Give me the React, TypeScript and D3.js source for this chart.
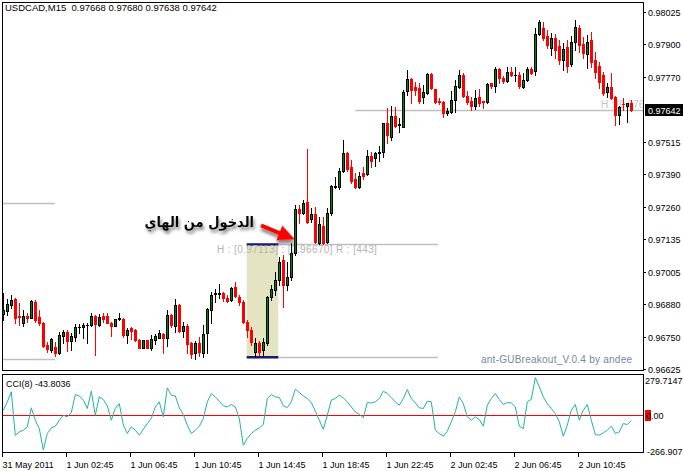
import { useEffect, useRef } from 'react';
import * as d3 from 'd3';

const symbol = 'USDCAD,M15';

// M15 bars, oldest first
const opens = [
  0.9684, 0.96852, 0.96875, 0.96899, 0.96833, 0.96805, 0.96833, 0.96825, 0.96888, 0.96829,
  0.96806, 0.96718, 0.96698, 0.96711, 0.96685, 0.96755, 0.9677, 0.96735, 0.96751, 0.96788,
  0.9679, 0.96797, 0.96796, 0.96833, 0.96797, 0.96832, 0.96832, 0.96806, 0.96794, 0.9682,
  0.9682, 0.96757, 0.96784, 0.96777, 0.96738, 0.96708, 0.96738, 0.96708, 0.96738, 0.96747,
  0.96761, 0.96747, 0.96836, 0.96793, 0.96875, 0.96773, 0.96793, 0.96725, 0.96685, 0.96725,
  0.96688, 0.96767, 0.96856, 0.96919, 0.96919, 0.96924, 0.96902, 0.96895, 0.96946, 0.96908,
  0.96888, 0.9681, 0.96777, 0.96692, 0.96727, 0.96698, 0.96727, 0.96908, 0.96934, 0.96974,
  0.97052, 0.96954, 0.96987, 0.97079, 0.97251, 0.97238, 0.97281, 0.97212, 0.97233, 0.9712,
  0.97186, 0.97124, 0.97236, 0.9734, 0.9734, 0.97402, 0.97472, 0.97419, 0.97369, 0.97338,
  0.97393, 0.9739, 0.97461, 0.97452, 0.97474, 0.97478, 0.97592, 0.97534, 0.97618, 0.97582,
  0.97576, 0.97714, 0.97762, 0.97733, 0.97727, 0.97694, 0.97707, 0.97783, 0.97723, 0.97677,
  0.97674, 0.97629, 0.97635, 0.97681, 0.97733, 0.97779, 0.97697, 0.97678, 0.97655, 0.97692,
  0.97677, 0.97674, 0.97747, 0.97736, 0.97802, 0.97766, 0.97757, 0.97792, 0.97779, 0.97779,
  0.97731, 0.9776, 0.97802, 0.97796, 0.9794, 0.97964, 0.97933, 0.97885, 0.97925, 0.97893,
  0.97838, 0.97889, 0.97823, 0.97909, 0.97964, 0.97901, 0.97862, 0.97917, 0.97838, 0.97815,
  0.97779, 0.9771, 0.97733, 0.97694, 0.97622, 0.97665, 0.97657, 0.97668,
];
const highs = [
  0.96923, 0.96899, 0.96915, 0.96903, 0.96883, 0.96856, 0.96845, 0.96895, 0.96895, 0.96856,
  0.9681, 0.96731, 0.96746, 0.96731, 0.9677, 0.96777, 0.96777, 0.96764, 0.96801, 0.96801,
  0.96803, 0.96803, 0.96845, 0.96836, 0.96839, 0.96845, 0.96843, 0.9681, 0.9682, 0.96845,
  0.96825, 0.96784, 0.96788, 0.9678, 0.96742, 0.96738, 0.96738, 0.96757, 0.9676, 0.96777,
  0.96764, 0.96856, 0.9684, 0.96898, 0.96878, 0.9681, 0.96799, 0.96731, 0.96735, 0.96751,
  0.96797, 0.96864, 0.96928, 0.96937, 0.96958, 0.96928, 0.96915, 0.96945, 0.96966, 0.96915,
  0.96895, 0.96816, 0.9679, 0.96746, 0.96734, 0.96746, 0.96911, 0.96954, 0.97005, 0.97064,
  0.97072, 0.97044, 0.97119, 0.97268, 0.97268, 0.97288, 0.97487, 0.97255, 0.97262, 0.9722,
  0.9722, 0.97255, 0.97347, 0.97377, 0.97413, 0.97524, 0.97478, 0.97445, 0.97393, 0.97399,
  0.97416, 0.97484, 0.97478, 0.97478, 0.975, 0.97592, 0.97648, 0.97655, 0.97652, 0.97609,
  0.9772, 0.97799, 0.97766, 0.97753, 0.97749, 0.9774, 0.97786, 0.97786, 0.97725, 0.9769,
  0.97678, 0.97648, 0.97714, 0.9776, 0.97799, 0.97786, 0.97714, 0.97692, 0.9772, 0.97723,
  0.97677, 0.97747, 0.97749, 0.97812, 0.97806, 0.97775, 0.9781, 0.9781, 0.9781, 0.97792,
  0.97788, 0.97812, 0.97812, 0.97963, 0.97995, 0.97988, 0.97956, 0.97944, 0.9794, 0.97917,
  0.97905, 0.97917, 0.97933, 0.97995, 0.97976, 0.97929, 0.97936, 0.97948, 0.9787, 0.9783,
  0.97791, 0.97748, 0.97787, 0.97697, 0.97655, 0.97689, 0.97669, 0.9768,
];
const lows = [
  0.96816, 0.96836, 0.96864, 0.96805, 0.96797, 0.96793, 0.9681, 0.96824, 0.9681, 0.96797,
  0.96711, 0.96692, 0.96692, 0.96676, 0.96683, 0.96727, 0.96696, 0.96698, 0.96735, 0.96764,
  0.96744, 0.96727, 0.96793, 0.96679, 0.96793, 0.9681, 0.96803, 0.96755, 0.96794, 0.96816,
  0.96748, 0.96727, 0.96742, 0.96734, 0.96705, 0.96708, 0.96708, 0.96698, 0.96722, 0.96744,
  0.96685, 0.96714, 0.9679, 0.9677, 0.9677, 0.96751, 0.96685, 0.96666, 0.96662, 0.96675,
  0.9667, 0.96685, 0.96803, 0.96888, 0.96902, 0.96892, 0.96888, 0.96892, 0.96907, 0.96875,
  0.96806, 0.96751, 0.96718, 0.9667, 0.96679, 0.96679, 0.96718, 0.96895, 0.96915, 0.96954,
  0.96869, 0.96934, 0.96974, 0.97072, 0.97196, 0.97233, 0.97196, 0.97203, 0.97119, 0.97115,
  0.97115, 0.9712, 0.97229, 0.97334, 0.9733, 0.97399, 0.97402, 0.97356, 0.97334, 0.97334,
  0.97369, 0.97386, 0.97419, 0.97422, 0.97439, 0.97458, 0.97513, 0.97524, 0.97574, 0.97556,
  0.97574, 0.97701, 0.97668, 0.97701, 0.97668, 0.9767, 0.97705, 0.97723, 0.9767, 0.97665,
  0.97615, 0.97622, 0.97631, 0.97635, 0.97727, 0.97694, 0.97665, 0.97642, 0.97644, 0.97655,
  0.97648, 0.9767, 0.97727, 0.9771, 0.97747, 0.97747, 0.97753, 0.97775, 0.97757, 0.97727,
  0.97727, 0.97757, 0.97783, 0.97779, 0.97936, 0.97917, 0.97885, 0.97858, 0.97846, 0.97823,
  0.97799, 0.97791, 0.97815, 0.97878, 0.9787, 0.97846, 0.97807, 0.97811, 0.97767, 0.97728,
  0.97701, 0.97694, 0.97685, 0.97583, 0.97587, 0.97642, 0.97595, 0.97638,
];
const closes = [
  0.96856, 0.96879, 0.96895, 0.96824, 0.96829, 0.96832, 0.96825, 0.96891, 0.96816, 0.96803,
  0.96714, 0.96702, 0.96742, 0.96685, 0.96757, 0.9677, 0.96735, 0.96753, 0.96788, 0.9679,
  0.96797, 0.96797, 0.96833, 0.96799, 0.96829, 0.96819, 0.96806, 0.96794, 0.9682, 0.96823,
  0.96757, 0.96777, 0.96774, 0.96738, 0.96708, 0.96738, 0.96708, 0.96742, 0.96755, 0.96767,
  0.96747, 0.96836, 0.96797, 0.96875, 0.96774, 0.96793, 0.96722, 0.96682, 0.96725, 0.96692,
  0.9676, 0.96858, 0.96915, 0.96921, 0.96924, 0.96902, 0.96891, 0.96941, 0.96911, 0.96888,
  0.9681, 0.96777, 0.96731, 0.96727, 0.96692, 0.96731, 0.96908, 0.96937, 0.96974, 0.97046,
  0.96954, 0.96987, 0.97079, 0.97251, 0.97236, 0.97277, 0.97203, 0.97233, 0.97124, 0.97193,
  0.97118, 0.97236, 0.97343, 0.97343, 0.97402, 0.97472, 0.97409, 0.97364, 0.97338, 0.97382,
  0.9738, 0.97461, 0.97442, 0.97474, 0.97475, 0.97589, 0.97543, 0.97618, 0.97579, 0.97587,
  0.9771, 0.97762, 0.97718, 0.97718, 0.97678, 0.9771, 0.97783, 0.97727, 0.97674, 0.97674,
  0.97629, 0.97639, 0.97681, 0.97736, 0.97779, 0.97697, 0.97674, 0.97657, 0.97688, 0.97668,
  0.97673, 0.97744, 0.97736, 0.97802, 0.97766, 0.97757, 0.97792, 0.97779, 0.97779, 0.97736,
  0.9776, 0.97802, 0.97788, 0.9794, 0.97985, 0.97925, 0.97897, 0.97925, 0.97878, 0.97838,
  0.97881, 0.97815, 0.97909, 0.97968, 0.97897, 0.97866, 0.97909, 0.9783, 0.97791, 0.97752,
  0.97708, 0.97733, 0.97688, 0.97622, 0.97652, 0.97663, 0.97668, 0.97642,
];

// CCI(8) per bar
const cciPeriod = 8;
const cci = [
  34, 97, 173, -156, -130, -117, -92, 52, -42, -105,
  -266.907, -142, -100, -87, -42, -4, -16, 16, 152, 142,
  110, 47, 178, -4, 135, 115, 67, -42, 47, 84,
  -79, -142, -92, -117, -155, -110, -67, -29, 59, 97,
  -16, 203, 147, 142, 52, 1, -79, -142, -117, -87,
  -29, 97, 160, 135, 102, 67, 59, 77, 59, -29,
  -231, -180, -142, -117, -100, -74, 122, 152, 135, 130,
  67, 54, 97, 193, 168, 142, 122, 92, 26, -42,
  -110, -4, 110, 122, 147, 127, 97, 59, 21, 4,
  -24, 92, 89, 97, 122, 178, 160, 130, 97, 72,
  122, 190, 122, 89, 52, 47, 102, 97, -117, -142,
  -163, -125, -54, 21, 135, 84, -16, -42, -16, -37,
  -87, 72, 122, 160, 115, 77, 92, 89, 59, -87,
  -105, 97, 117, 279.7147, 210, 135, 84, 47, 9, -54,
  -163, -79, 34, 77, -42, 34, 77, -42, -150, -155,
  -137, -117, -87, -142, -130, -67, -74, -43.8036,
];

const priceTicks = [0.98025, 0.979, 0.9777, 0.97515, 0.9739, 0.9726, 0.97135, 0.97005, 0.9688, 0.9675, 0.96625];
const priceMin = 0.96625;
const priceMax = 0.98025;
const cciMax = 279.7147;
const cciMin = -266.907;
const timeLabels = [
  '31 May 2011', '1 Jun 02:45', '1 Jun 06:45', '1 Jun 10:45', '1 Jun 14:45',
  '1 Jun 18:45', '1 Jun 22:45', '2 Jun 02:45', '2 Jun 06:45', '2 Jun 10:45',
];
const barsPerLabel = 16;

// GUBreakout range box
const rangeHigh = 0.97113;
const rangeLow = 0.9667;
const rangeStartBar = 60.85;
const rangeEndBar = 68.75;
const rangeLineEndBar = 108.7;
const prevRangeHigh = 0.97276;
const prevRangeLow = 0.96664;
const prevRangeEndBar = 12.9;
const bidLineStartBar = 88;
const nextRangeLabel = 'H : [0.976';

const arabicNote = 'الدخول من الهاي';
const indicatorName = 'ant-GUBreakout_V.0.4 by andee';

const FONT = '"Liberation Sans", Arial, sans-serif';

export default function App() {
  const svgRef = useRef<SVGSVGElement>(null);

  useEffect(() => {
    if (!svgRef.current) return;
    const svg = d3.select(svgRef.current);
    svg.selectAll('*').remove();

    const left = 2, right = 643;
    const mainTop = 2, mainBottom = 370, cciTop = 374, cciBottom = 452;
    const n = opens.length;
    const last = n - 1;

    const x = d3.scaleLinear().domain([0, last]).range([3.3, 631.3]);
    const y = d3.scaleLinear().domain([priceMin, priceMax]).range([368.7, 12.3]);
    const yc = d3.scaleLinear().domain([cciMin, cciMax]).range([450, 377.7]);
    const px = (i: number) => Math.floor(x(i)) + 0.5;
    const py = (v: number) => Math.round(y(v)) + 0.5;

    svg.append('rect').attr('width', 683).attr('height', 471).attr('fill', '#fff');

    const defs = svg.append('defs');
    defs.append('clipPath').attr('id', 'mainClip')
      .append('rect').attr('x', left + 1).attr('y', mainTop + 1)
      .attr('width', right - left - 1).attr('height', mainBottom - mainTop - 1);
    defs.append('filter').attr('id', 'shadow').attr('x', '-20%').attr('y', '-30%')
      .attr('width', '140%').attr('height', '180%')
      .append('feDropShadow').attr('dx', 1.5).attr('dy', 3).attr('stdDeviation', 1.8)
      .attr('flood-color', '#666').attr('flood-opacity', 0.8);

    const main = svg.append('g').attr('clip-path', 'url(#mainClip)');

    const grayLine = (x1: number, x2: number, yy: number) =>
      main.append('line').attr('x1', x1).attr('x2', x2).attr('y1', yy).attr('y2', yy)
        .attr('stroke', '#c0c0c0').attr('stroke-width', 1.5);

    // previous day's range
    grayLine(left, x(prevRangeEndBar), py(prevRangeHigh));
    grayLine(left, x(prevRangeEndBar), py(prevRangeLow));

    // breakout range box
    const bx1 = x(rangeStartBar), bx2 = x(rangeEndBar);
    grayLine(bx1, x(rangeLineEndBar), py(rangeHigh));
    grayLine(bx1, x(rangeLineEndBar), py(rangeLow));
    main.append('rect').attr('x', bx1).attr('y', y(rangeHigh)).attr('width', bx2 - bx1)
      .attr('height', y(rangeLow) - y(rangeHigh)).attr('fill', '#e4e4c2');
    [rangeHigh, rangeLow].forEach(v => {
      main.append('line').attr('x1', bx1).attr('x2', bx2).attr('y1', y(v)).attr('y2', y(v))
        .attr('stroke', '#191970').attr('stroke-width', 2.5);
    });
    const rangePts = Math.round((rangeHigh - rangeLow) * 1e5);
    main.append('text').attr('x', x(53.4)).attr('y', y(rangeHigh) + 9)
      .attr('font-family', FONT).attr('font-size', 10).attr('fill', '#b4b4b4')
      .attr('textLength', 160).attr('lengthAdjust', 'spacing')
      .text(`H : [${rangeHigh.toFixed(5)}] : [${rangeLow.toFixed(5)}]   R : [${rangePts}]`);

    // bid line and the next range label
    const bid = closes[last];
    grayLine(x(bidLineStartBar), right, py(bid));
    main.append('text').attr('x', x(149.4)).attr('y', y(bid) - 2)
      .attr('font-family', FONT).attr('font-size', 10).attr('fill', '#c4c4c4')
      .text(nextRangeLabel);

    // candles
    const cg = main.append('g').attr('shape-rendering', 'crispEdges');
    for (let i = 0; i < n; i++) {
      const o = opens[i], c = closes[i];
      const cx = px(i);
      const bear = c < o;
      const top = Math.round(y(Math.max(o, c)));
      const bot = Math.round(y(Math.min(o, c)));
      const col = bear ? '#ff0000' : '#000';
      cg.append('line').attr('x1', cx).attr('x2', cx)
        .attr('y1', Math.round(y(highs[i]))).attr('y2', Math.round(y(lows[i])) + 1)
        .attr('stroke', col).attr('stroke-width', 1);
      if (bot - top < 1) {
        cg.append('rect').attr('x', cx - 1.5).attr('y', top).attr('width', 3).attr('height', 1).attr('fill', col);
      } else if (bear) {
        cg.append('rect').attr('x', cx - 1.5).attr('y', top).attr('width', 3).attr('height', bot - top + 1).attr('fill', '#ff0000');
      } else {
        cg.append('rect').attr('x', cx - 1.5).attr('y', top).attr('width', 3).attr('height', bot - top + 1).attr('fill', '#000');
        if (bot - top > 1) {
          cg.append('rect').attr('x', cx - 0.5).attr('y', top + 1).attr('width', 1).attr('height', bot - top - 1).attr('fill', '#008000');
        }
      }
    }

    main.append('text').attr('x', 481).attr('y', mainBottom - 7)
      .attr('font-family', FONT).attr('font-size', 10).attr('fill', '#778899')
      .attr('textLength', 151).attr('lengthAdjust', 'spacing').text(indicatorName);

    // arrow + note
    const tip: [number, number] = [x(73) - 0.3, y(rangeHigh) - 5];
    const ang = Math.atan2(14, 34);
    const len = Math.hypot(34, 14);
    const headLen = 17, headW = 8, shaftW = 1.9;
    const ag = main.append('g').attr('filter', 'url(#shadow)')
      .attr('transform', `translate(${tip[0]},${tip[1]}) rotate(${(ang * 180) / Math.PI})`);
    ag.append('path').attr('fill', '#ff0000').attr('d',
      `M0,0 L${-headLen},${-headW} L${-headLen},${-shaftW} L${-len},${-shaftW} L${-len},${shaftW} L${-headLen},${shaftW} L${-headLen},${headW} Z`);

    main.append('text').attr('x', tip[0] - 41).attr('y', tip[1] - 12.5)
      .attr('text-anchor', 'end').attr('font-family', '"DejaVu Sans Condensed", "DejaVu Sans", sans-serif')
      .attr('font-stretch', 'condensed')
      .attr('font-weight', 'bold').attr('font-size', 14.5).attr('fill', '#000')
      .attr('filter', 'url(#shadow)').text(arabicNote);

    // CCI panel
    const cg2 = svg.append('g');
    const zy = Math.round(yc(0)) + 0.5;
    cg2.append('line').attr('x1', left).attr('x2', right).attr('y1', zy).attr('y2', zy)
      .attr('stroke', '#ff0000').attr('stroke-width', 1);
    const cciLine = d3.line<number>().x((_d, i) => x(i)).y(d => yc(d));
    cg2.append('path').datum(cci).attr('fill', 'none').attr('stroke', '#20b2aa').attr('stroke-width', 1).attr('d', cciLine);
    cg2.append('text').attr('x', 6).attr('y', cciTop + 13).attr('font-family', FONT).attr('font-size', 9)
      .attr('fill', '#000').text(`CCI(${cciPeriod}) ${cci[last]}`);

    // frames
    const frame = svg.append('g').attr('fill', 'none').attr('stroke', '#000').attr('shape-rendering', 'crispEdges');
    frame.append('rect').attr('x', left + 0.5).attr('y', mainTop + 0.5).attr('width', right - left).attr('height', mainBottom - mainTop);
    frame.append('rect').attr('x', left + 0.5).attr('y', cciTop + 0.5).attr('width', right - left).attr('height', cciBottom - cciTop);

    // title
    svg.append('text').attr('x', 5).attr('y', 11).attr('font-family', FONT).attr('font-size', 9.5).attr('fill', '#000')
      .attr('xml:space', 'preserve')
      .text(`${symbol}  ${opens[last].toFixed(5)} ${highs[last].toFixed(5)} ${lows[last].toFixed(5)} ${closes[last].toFixed(5)}`);

    // price axis
    const ax = svg.append('g').attr('font-family', FONT).attr('font-size', 9).attr('fill', '#000');
    priceTicks.forEach(v => {
      const yy = Math.round(y(v)) + 0.5;
      ax.append('line').attr('x1', right).attr('x2', right + 3).attr('y1', yy).attr('y2', yy).attr('stroke', '#000');
      ax.append('text').attr('x', 648).attr('y', yy + 3.5).text(v.toFixed(5));
    });
    const by = Math.round(y(bid));
    ax.append('rect').attr('x', 645).attr('y', by - 6).attr('width', 38).attr('height', 12).attr('fill', '#000');
    ax.append('text').attr('x', 648).attr('y', by + 4).attr('fill', '#fff').text(bid.toFixed(5));

    // cci axis
    ax.append('text').attr('x', 645).attr('y', cciTop + 10).text(String(cciMax));
    ax.append('rect').attr('x', 645).attr('y', Math.round(yc(0)) - 5).attr('width', 6).attr('height', 11).attr('fill', '#ff0000');
    ax.append('text').attr('x', 646).attr('y', Math.round(yc(0)) + 4).text('0.00');
    ax.append('text').attr('x', 647).attr('y', cciBottom + 3).text(String(cciMin));

    // time axis
    timeLabels.forEach((t, k) => {
      const tx = Math.floor(x(k * barsPerLabel)) - 0.5;
      ax.append('line').attr('x1', tx).attr('x2', tx).attr('y1', cciBottom).attr('y2', cciBottom + 5).attr('stroke', '#000');
      ax.append('text').attr('x', tx).attr('y', cciBottom + 16).text(t);
    });
  }, []);

  return (
    <div style={{ position: 'absolute', left: 0, top: 0 }}>
      <svg ref={svgRef} width={683} height={471} />
    </div>
  );
}
